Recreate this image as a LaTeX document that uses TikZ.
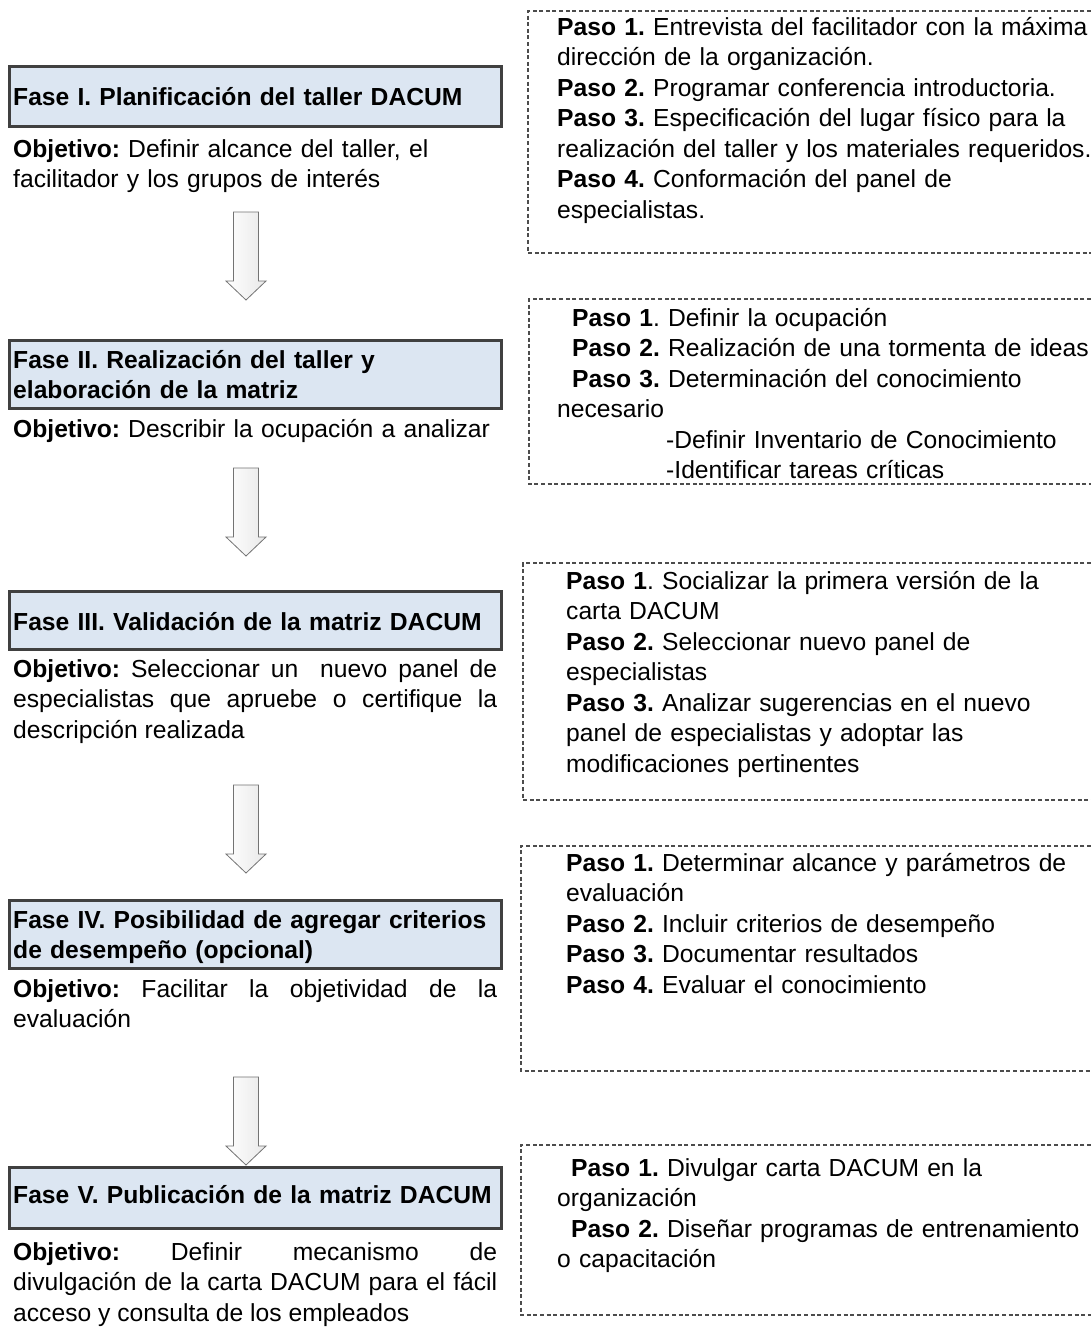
\documentclass[tikz,border=0pt]{standalone}
\usepackage{fontspec}
\setmainfont{Liberation Sans}
\usetikzlibrary{shadows}
\definecolor{fasefill}{HTML}{DCE6F2}
\begin{document}
\frenchspacing
\hyphenpenalty=10000\relax
\exhyphenpenalty=10000\relax
\begin{tikzpicture}[x=1pt,y=-1pt,
  txt/.style={inner sep=0pt, anchor=base west, font=\fontsize{24.65}{30.5}\selectfont\frenchspacing, text width=#1, align=left},
  txt/.default=484,
  fasebox/.style={draw=black!75, line width=3pt, fill=fasefill, inner sep=0pt,
    drop shadow={shadow xshift=1.5pt, shadow yshift=-1.5pt, opacity=0.3, fill=black!60}},
  dashframe/.style={draw=black!70, line width=1.8pt, dash pattern=on 4pt off 2.6pt},
  downarrow/.pic={\draw[draw=black!55, line width=0.8pt, left color=white, right color=black!9]
    (-12.5,0) -- (12.5,0) -- (12.5,69) -- (20,69) -- (0,88) -- (-20,69) -- (-12.5,69) -- cycle;}
]
\useasboundingbox[fill=white] (0,0) rectangle (1091,1334);

% phase boxes
\node[fasebox, minimum width=492pt, minimum height=60pt] (b1) at (255.5,96.5) {};
\node[fasebox, minimum width=492pt, minimum height=68pt] (b2) at (255.5,374.5) {};
\node[fasebox, minimum width=492pt, minimum height=58pt] (b3) at (255.5,620.5) {};
\node[fasebox, minimum width=492pt, minimum height=68pt] (b4) at (255.5,934.5) {};
\node[fasebox, minimum width=492pt, minimum height=61pt] (b5) at (255.5,1198) {};

% phase titles
\node[txt=520] (f1) at (13,105) {\bfseries Fase I. Planificación del taller DACUM};
\node[txt=520] (f2) at (13,368) {\bfseries Fase II. Realización del taller y\\elaboración de la matriz};
\node[txt=520] (f3) at (13,630) {\bfseries Fase III. Validación de la matriz DACUM};
\node[txt=520] (f4) at (13,928) {\bfseries Fase IV. Posibilidad de agregar criterios\\de desempeño (opcional)};
\node[txt=520] (f5) at (13,1203) {\bfseries Fase V. Publicación de la matriz DACUM};

% objectives
\node[txt=520] (o1) at (13,157) {\textbf{Objetivo:} Definir alcance del taller, el\\facilitador y los grupos de interés};
\node[txt=520] (o2) at (13,437) {\textbf{Objetivo:} Describir la ocupación a analizar};
\node[txt, align=justify] (o3) at (13,677) {\textbf{Objetivo:} Seleccionar un\ \ nuevo panel de\linebreak especialistas que apruebe o certifique la\linebreak descripción realizada};
\node[txt, align=justify] (o4) at (13,997) {\textbf{Objetivo:} Facilitar la objetividad de la\linebreak evaluación};
\node[txt, align=justify] (o5) at (13,1260) {\textbf{Objetivo:} Definir mecanismo de\linebreak divulgación de la carta DACUM para el fácil\linebreak acceso y consulta de los empleados};

% arrows
\pic at (246,212) {downarrow};
\pic at (246,468) {downarrow};
\pic at (246,785) {downarrow};
\pic at (246,1077) {downarrow};

% step frames
\draw[dashframe] (1091,11) -- (528,11) -- (528,253) -- (1091,253);
\draw[dashframe] (1091,299) -- (529,299) -- (529,484) -- (1091,484);
\draw[dashframe] (1091,563) -- (523,563) -- (523,800) -- (1091,800);
\draw[dashframe] (1091,846) -- (521,846) -- (521,1071) -- (1091,1071);
\draw[dashframe] (1091,1145) -- (521,1145) -- (521,1315) -- (1091,1315);

% steps
\node[txt=600] (p1) at (557,35) {\textbf{Paso 1.} Entrevista del facilitador con la máxima\\dirección de la organización.\\\textbf{Paso 2.} Programar conferencia introductoria.\\\textbf{Paso 3.} Especificación del lugar físico para la\\realización del taller y los materiales requeridos.\\\textbf{Paso 4.} Conformación del panel de\\especialistas.};
\node[txt=600] (p2) at (557,326) {\hspace*{15pt}\textbf{Paso 1}. Definir la ocupación\\\hspace*{15pt}\textbf{Paso 2.} Realización de una tormenta de ideas\\\hspace*{15pt}\textbf{Paso 3.} Determinación del conocimiento\\necesario\\\hspace*{109pt}-Definir Inventario de Conocimiento\\\hspace*{109pt}-Identificar tareas críticas};
\node[txt=600] (p3) at (566,589) {\textbf{Paso 1}. Socializar la primera versión de la\\carta DACUM\\\textbf{Paso 2.} Seleccionar nuevo panel de\\especialistas\\\textbf{Paso 3.} Analizar sugerencias en el nuevo\\panel de especialistas y adoptar las\\modificaciones pertinentes};
\node[txt=600] (p4) at (566,871) {\textbf{Paso 1.} Determinar alcance y parámetros de\\evaluación\\\textbf{Paso 2.} Incluir criterios de desempeño\\\textbf{Paso 3.} Documentar resultados\\\textbf{Paso 4.} Evaluar el conocimiento};
\node[txt=600] (p5) at (557,1176) {\hspace*{14pt}\textbf{Paso 1.} Divulgar carta DACUM en la\\organización\\\hspace*{14pt}\textbf{Paso 2.} Diseñar programas de entrenamiento\\o capacitación};
\end{tikzpicture}
\end{document}
